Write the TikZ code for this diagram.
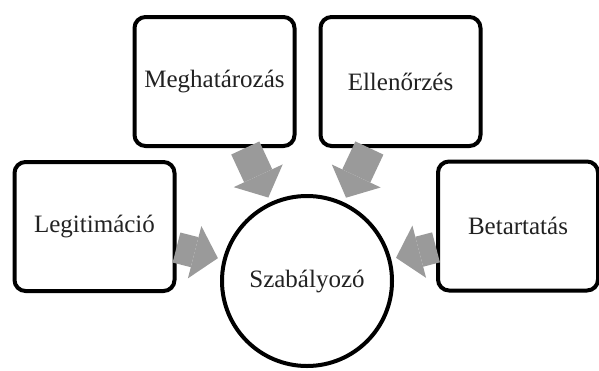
\documentclass[tikz,border=0pt]{standalone}
\usepackage{fontspec}
\setmainfont{Liberation Serif}
\usetikzlibrary{arrows.meta, shadows}
\definecolor{arrowgray}{HTML}{9A9A9A}
\definecolor{textgray}{HTML}{222222}
\tikzset{
  box/.style={draw=black, line width=4pt, rounded corners=11pt, fill=white,
    minimum width=160pt, minimum height=129pt, text=textgray,
    drop shadow={opacity=0.3, shadow xshift=1.5pt, shadow yshift=-1.5pt}},
  hub/.style={draw=black, line width=4pt, circle, fill=white,
    minimum size=170pt, text=textgray,
    drop shadow={opacity=0.3, shadow xshift=1.5pt, shadow yshift=-1.5pt}},
  feed/.style={draw=arrowgray, line width=31pt, shorten >=5pt,
    -{Triangle[width=54pt, length=24pt, line width=0pt]}}
}

\begin{document}
\begin{tikzpicture}[x=1pt, y=-1pt, font=\fontsize{25}{30}\selectfont]
\useasboundingbox (0, 0) rectangle (599, 370);
\node [hub] (szab) at (307, 281) {Szabályozó};
\node [box] (meg) at (214.5, 81.5) {Meghatározás};
\node [box] (ell) at (400.5, 81.5) {Ellenőrzés};
\node [box] (leg) at (94.5, 226.5) {Legitimáció};
\node [box] (bet) at (518, 226) {Betartatás};
\draw [feed] (meg) -- (szab);
\draw [feed] (ell) -- (szab);
\draw [feed] (leg) -- (szab);
\draw [feed] (bet) -- (szab);
\end{tikzpicture}
\end{document}
